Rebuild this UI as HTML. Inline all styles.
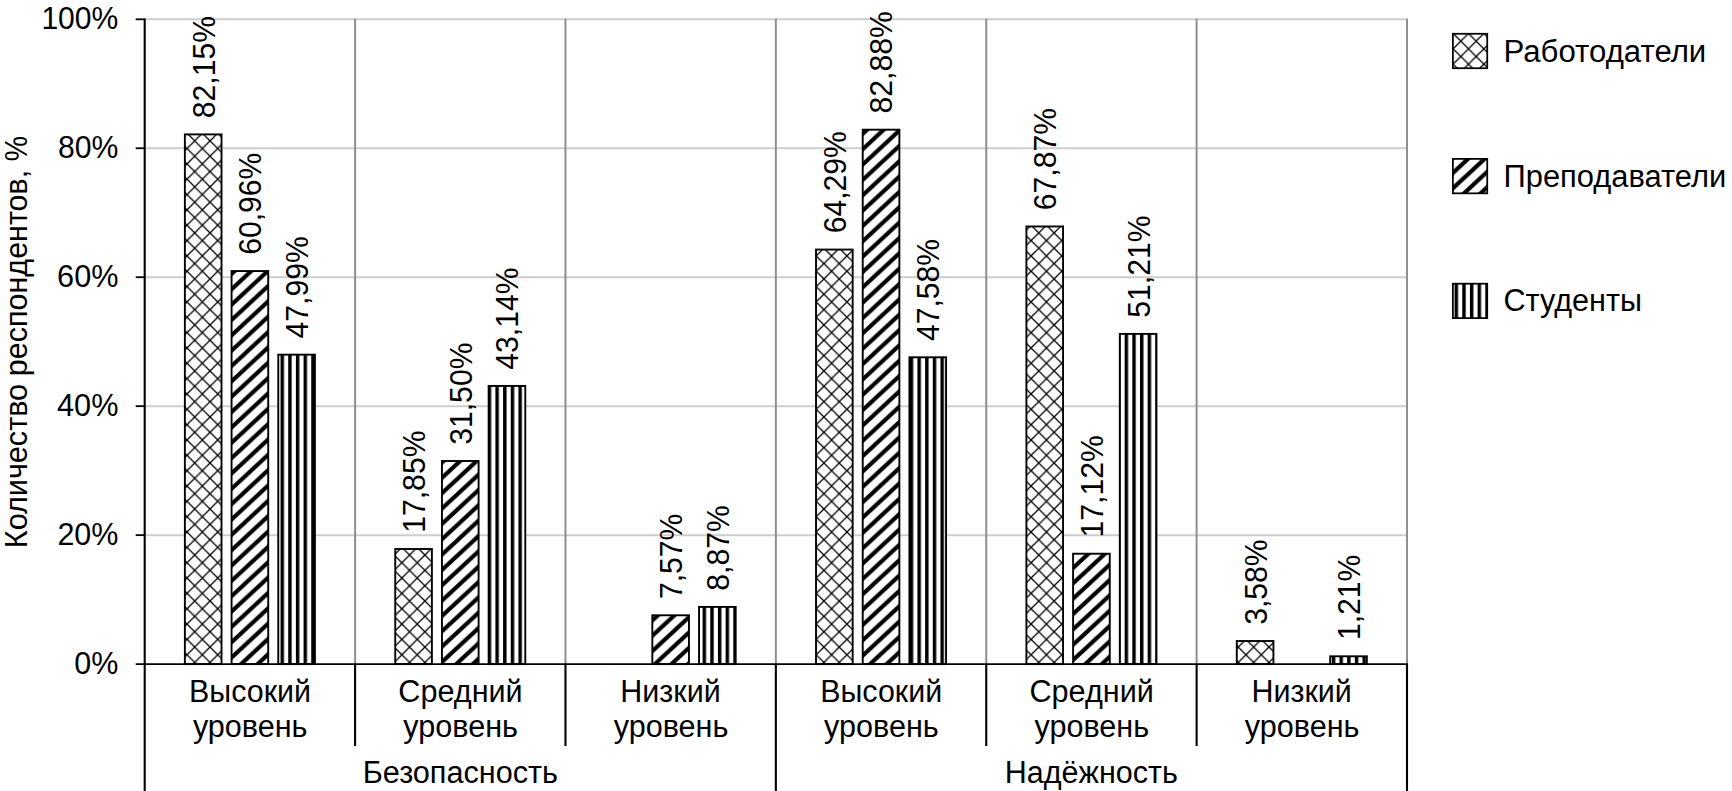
<!DOCTYPE html>
<html lang="ru"><head><meta charset="utf-8"><title>Диаграмма</title>
<style>html,body{margin:0;padding:0;background:#fff}body{width:1732px;height:791px;overflow:hidden}svg{display:block}text{font-family:"Liberation Sans",Arial,sans-serif;font-size:30.8px;fill:#000}</style></head><body>
<svg width="1732" height="791" viewBox="0 0 1732 791">
<defs>
<pattern id="p1" width="15.347" height="15.34" patternUnits="userSpaceOnUse" x="2.850" y="10.470"><rect width="15.347" height="15.34" fill="#fff"/><path d="M0 0L15.347 15.34M15.347 0L0 15.34" stroke="#000" stroke-width="1.3" stroke-linecap="square"/></pattern>
<pattern id="p2" width="16.553" height="15.345" patternUnits="userSpaceOnUse" x="13.916" y="0"><rect width="16.553" height="15.345" fill="#fff"/><g fill="#000"><polygon points="0.00,-2.80 16.55,-18.14 16.55,-12.55 0.00,2.80"/><polygon points="0.00,12.55 16.55,-2.80 16.55,2.80 0.00,18.14"/><polygon points="0.00,27.89 16.55,12.55 16.55,18.14 0.00,33.49"/></g></pattern>
<pattern id="dL" width="16.553" height="15.345" patternUnits="userSpaceOnUse" x="17.260" y="0"><rect width="16.553" height="15.345" fill="#fff"/><g fill="#000"><polygon points="0.00,-2.80 16.55,-18.14 16.55,-12.55 0.00,2.80"/><polygon points="0.00,12.55 16.55,-2.80 16.55,2.80 0.00,18.14"/><polygon points="0.00,27.89 16.55,12.55 16.55,18.14 0.00,33.49"/></g></pattern>
<pattern id="p3" width="7.6735" height="10" patternUnits="userSpaceOnUse" x="4.3" y="0"><rect width="7.6735" height="10" fill="#fff"/><rect x="0" y="0" width="3.45" height="10" fill="#000"/></pattern>
</defs>
<rect width="1732" height="791" fill="#fff"/>
<line x1="144.7" x2="1407.0" y1="535.14" y2="535.14" stroke="#cdcdcd" stroke-width="2"/>
<line x1="144.7" x2="1407.0" y1="406.18" y2="406.18" stroke="#cdcdcd" stroke-width="2"/>
<line x1="144.7" x2="1407.0" y1="277.22" y2="277.22" stroke="#cdcdcd" stroke-width="2"/>
<line x1="144.7" x2="1407.0" y1="148.26" y2="148.26" stroke="#cdcdcd" stroke-width="2"/>
<line x1="144.7" x2="1407.0" y1="19.30" y2="19.30" stroke="#cdcdcd" stroke-width="2"/>
<line x1="355.08" x2="355.08" y1="18.70" y2="664.10" stroke="#8f8f8f" stroke-width="2"/>
<line x1="565.47" x2="565.47" y1="18.70" y2="664.10" stroke="#8f8f8f" stroke-width="2"/>
<line x1="775.85" x2="775.85" y1="18.70" y2="664.10" stroke="#8f8f8f" stroke-width="2"/>
<line x1="986.23" x2="986.23" y1="18.70" y2="664.10" stroke="#8f8f8f" stroke-width="2"/>
<line x1="1196.62" x2="1196.62" y1="18.70" y2="664.10" stroke="#8f8f8f" stroke-width="2"/>
<line x1="1407.00" x2="1407.00" y1="18.70" y2="664.10" stroke="#8f8f8f" stroke-width="2"/>
<rect x="184.87" y="134.40" width="36.65" height="529.70" fill="url(#p1)" stroke="#000" stroke-width="1.9"/>
<text transform="translate(214.59 118.20) rotate(-90)" textLength="102.26" lengthAdjust="spacingAndGlyphs">82,15%</text>
<rect x="231.57" y="271.03" width="36.65" height="393.07" fill="url(#p2)" stroke="#000" stroke-width="1.9"/>
<text transform="translate(261.29 254.83) rotate(-90)" textLength="102.26" lengthAdjust="spacingAndGlyphs">60,96%</text>
<rect x="278.27" y="354.66" width="36.65" height="309.44" fill="url(#p3)" stroke="#000" stroke-width="1.9"/>
<text transform="translate(307.99 338.46) rotate(-90)" textLength="102.26" lengthAdjust="spacingAndGlyphs">47,99%</text>
<rect x="395.25" y="549.00" width="36.65" height="115.10" fill="url(#p1)" stroke="#000" stroke-width="1.9"/>
<text transform="translate(424.97 532.80) rotate(-90)" textLength="102.26" lengthAdjust="spacingAndGlyphs">17,85%</text>
<rect x="441.95" y="460.99" width="36.65" height="203.11" fill="url(#p2)" stroke="#000" stroke-width="1.9"/>
<text transform="translate(471.67 444.79) rotate(-90)" textLength="102.26" lengthAdjust="spacingAndGlyphs">31,50%</text>
<rect x="488.65" y="385.93" width="36.65" height="278.17" fill="url(#p3)" stroke="#000" stroke-width="1.9"/>
<text transform="translate(518.38 369.73) rotate(-90)" textLength="102.26" lengthAdjust="spacingAndGlyphs">43,14%</text>
<rect x="652.33" y="615.29" width="36.65" height="48.81" fill="url(#p2)" stroke="#000" stroke-width="1.9"/>
<text transform="translate(682.06 599.09) rotate(-90)" textLength="85.49" lengthAdjust="spacingAndGlyphs">7,57%</text>
<rect x="699.03" y="606.91" width="36.65" height="57.19" fill="url(#p3)" stroke="#000" stroke-width="1.9"/>
<text transform="translate(728.76 590.71) rotate(-90)" textLength="85.49" lengthAdjust="spacingAndGlyphs">8,87%</text>
<rect x="816.02" y="249.56" width="36.65" height="414.54" fill="url(#p1)" stroke="#000" stroke-width="1.9"/>
<text transform="translate(845.74 233.36) rotate(-90)" textLength="102.26" lengthAdjust="spacingAndGlyphs">64,29%</text>
<rect x="862.72" y="129.69" width="36.65" height="534.41" fill="url(#p2)" stroke="#000" stroke-width="1.9"/>
<text transform="translate(892.44 113.49) rotate(-90)" textLength="102.26" lengthAdjust="spacingAndGlyphs">82,88%</text>
<rect x="909.42" y="357.30" width="36.65" height="306.80" fill="url(#p3)" stroke="#000" stroke-width="1.9"/>
<text transform="translate(939.14 341.10) rotate(-90)" textLength="102.26" lengthAdjust="spacingAndGlyphs">47,58%</text>
<rect x="1026.40" y="226.47" width="36.65" height="437.63" fill="url(#p1)" stroke="#000" stroke-width="1.9"/>
<text transform="translate(1056.12 210.27) rotate(-90)" textLength="102.26" lengthAdjust="spacingAndGlyphs">67,87%</text>
<rect x="1073.10" y="553.71" width="36.65" height="110.39" fill="url(#p2)" stroke="#000" stroke-width="1.9"/>
<text transform="translate(1102.83 537.51) rotate(-90)" textLength="102.26" lengthAdjust="spacingAndGlyphs">17,12%</text>
<rect x="1119.80" y="333.90" width="36.65" height="330.20" fill="url(#p3)" stroke="#000" stroke-width="1.9"/>
<text transform="translate(1149.53 317.70) rotate(-90)" textLength="102.26" lengthAdjust="spacingAndGlyphs">51,21%</text>
<rect x="1236.78" y="641.02" width="36.65" height="23.08" fill="url(#p1)" stroke="#000" stroke-width="1.9"/>
<text transform="translate(1266.51 624.82) rotate(-90)" textLength="85.49" lengthAdjust="spacingAndGlyphs">3,58%</text>
<rect x="1330.18" y="656.30" width="36.65" height="7.80" fill="url(#p3)" stroke="#000" stroke-width="1.9"/>
<text transform="translate(1359.91 640.10) rotate(-90)" textLength="85.49" lengthAdjust="spacingAndGlyphs">1,21%</text>
<line x1="144.7" x2="144.7" y1="18.400000000000002" y2="791" stroke="#000" stroke-width="2.1"/>
<line x1="135.7" x2="1408.0" y1="664.1" y2="664.1" stroke="#000" stroke-width="1.8"/>
<line x1="135.7" x2="144.7" y1="535.14" y2="535.14" stroke="#000" stroke-width="1.8"/>
<line x1="135.7" x2="144.7" y1="406.18" y2="406.18" stroke="#000" stroke-width="1.8"/>
<line x1="135.7" x2="144.7" y1="277.22" y2="277.22" stroke="#000" stroke-width="1.8"/>
<line x1="135.7" x2="144.7" y1="148.26" y2="148.26" stroke="#000" stroke-width="1.8"/>
<line x1="135.7" x2="144.7" y1="19.30" y2="19.30" stroke="#000" stroke-width="1.8"/>
<line x1="355.08" x2="355.08" y1="664.10" y2="746.00" stroke="#000" stroke-width="2.1"/>
<line x1="565.47" x2="565.47" y1="664.10" y2="746.00" stroke="#000" stroke-width="2.1"/>
<line x1="775.85" x2="775.85" y1="664.10" y2="791.00" stroke="#000" stroke-width="2.1"/>
<line x1="986.23" x2="986.23" y1="664.10" y2="746.00" stroke="#000" stroke-width="2.1"/>
<line x1="1196.62" x2="1196.62" y1="664.10" y2="746.00" stroke="#000" stroke-width="2.1"/>
<line x1="1407.00" x2="1407.00" y1="664.10" y2="791.00" stroke="#000" stroke-width="2.1"/>
<text x="41.40" y="28.50" textLength="76.90" lengthAdjust="spacingAndGlyphs">100%</text>
<text x="57.97" y="157.80" textLength="60.44" lengthAdjust="spacingAndGlyphs">80%</text>
<text x="57.11" y="286.60" textLength="61.33" lengthAdjust="spacingAndGlyphs">60%</text>
<text x="57.05" y="415.80" textLength="61.38" lengthAdjust="spacingAndGlyphs">40%</text>
<text x="57.42" y="544.60" textLength="61.01" lengthAdjust="spacingAndGlyphs">20%</text>
<text x="74.26" y="674.00" textLength="44.04" lengthAdjust="spacingAndGlyphs">0%</text>
<text transform="translate(26.80 548.18) rotate(-90)" textLength="164.26" lengthAdjust="spacingAndGlyphs">Количество</text>
<text transform="translate(26.80 376.18) rotate(-90)" textLength="206.44" lengthAdjust="spacingAndGlyphs">респондентов,</text>
<text transform="translate(26.80 161.33) rotate(-90)" textLength="25.38" lengthAdjust="spacingAndGlyphs">%</text>
<text x="189.07" y="702.15" textLength="121.93" lengthAdjust="spacingAndGlyphs">Высокий</text>
<text x="192.92" y="736.50" textLength="114.65" lengthAdjust="spacingAndGlyphs">уровень</text>
<text x="398.33" y="702.15" textLength="124.38" lengthAdjust="spacingAndGlyphs">Средний</text>
<text x="403.30" y="736.50" textLength="114.65" lengthAdjust="spacingAndGlyphs">уровень</text>
<text x="620.28" y="702.15" textLength="100.46" lengthAdjust="spacingAndGlyphs">Низкий</text>
<text x="613.69" y="736.50" textLength="114.65" lengthAdjust="spacingAndGlyphs">уровень</text>
<text x="820.22" y="702.15" textLength="121.93" lengthAdjust="spacingAndGlyphs">Высокий</text>
<text x="824.07" y="736.50" textLength="114.65" lengthAdjust="spacingAndGlyphs">уровень</text>
<text x="1029.48" y="702.15" textLength="124.38" lengthAdjust="spacingAndGlyphs">Средний</text>
<text x="1034.45" y="736.50" textLength="114.65" lengthAdjust="spacingAndGlyphs">уровень</text>
<text x="1251.43" y="702.15" textLength="100.46" lengthAdjust="spacingAndGlyphs">Низкий</text>
<text x="1244.84" y="736.50" textLength="114.65" lengthAdjust="spacingAndGlyphs">уровень</text>
<text x="362.71" y="783.10" textLength="195.28" lengthAdjust="spacingAndGlyphs">Безопасность</text>
<text x="1004.82" y="783.10" textLength="173.03" lengthAdjust="spacingAndGlyphs">Надёжность</text>
<rect x="1452.88" y="33.77" width="34.35" height="34.45" fill="url(#p1)" stroke="#000" stroke-width="1.75"/>
<text x="1503.47" y="61.50" textLength="202.81" lengthAdjust="spacingAndGlyphs">Работодатели</text>
<rect x="1452.88" y="158.88" width="34.35" height="34.45" fill="url(#dL)" stroke="#000" stroke-width="1.75"/>
<text x="1503.54" y="186.60" textLength="222.69" lengthAdjust="spacingAndGlyphs">Преподаватели</text>
<rect x="1452.88" y="283.68" width="34.35" height="34.45" fill="url(#p3)" stroke="#000" stroke-width="1.75"/>
<text x="1503.51" y="311.30" textLength="138.45" lengthAdjust="spacingAndGlyphs">Студенты</text>
</svg></body></html>
